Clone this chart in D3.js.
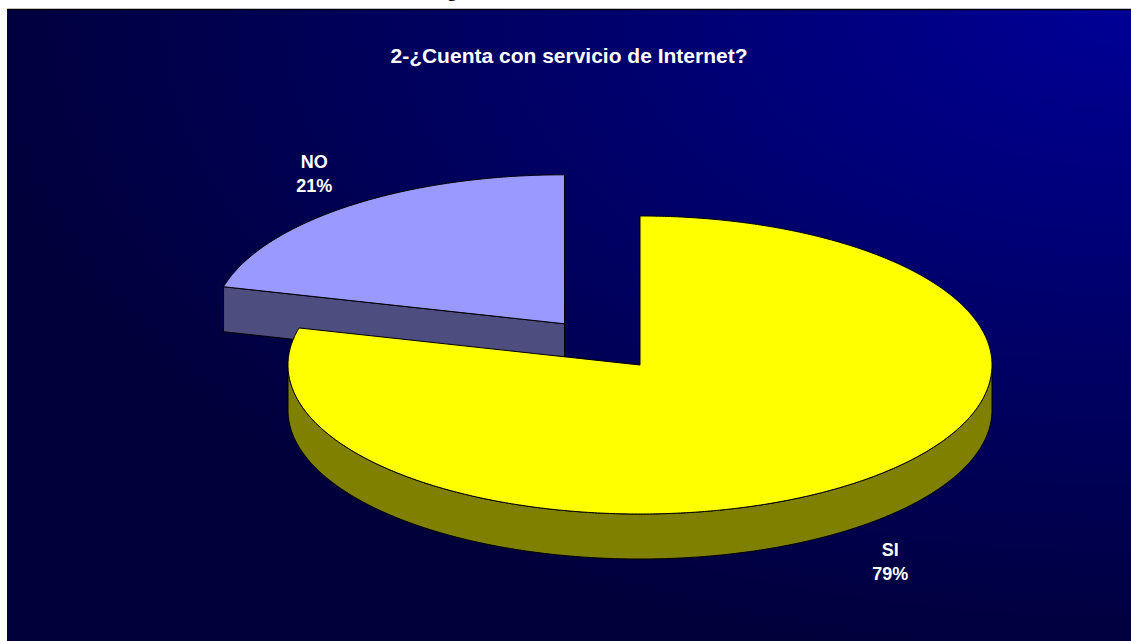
<!DOCTYPE html>
<html>
<head>
<meta charset="utf-8">
<script src="https://cdn.jsdelivr.net/npm/d3@7"></script>
<style>
  html, body { margin: 0; padding: 0; background: #ffffff; overflow: hidden; }
  svg { display: block; }
</style>
</head>
<body>
<svg id="chart" width="1131" height="641"></svg>
<script>
// Survey answers
const categories = ["SI", "NO"];
const values = [79, 21];
const percentLabels = ["79%", "21%"];
const chartTitle = "2-¿Cuenta con servicio de Internet?";
const explodeFactor = [0, 0.35];

// Slice colours: top face and darker extruded side
const topColors = ["#FFFF00", "#9999FF"];
const sideColors = ["#808000", "#4D4D80"];

const W = 1131, H = 641;
const svg = d3.select("#chart");

// Backdrop panel with a corner gradient
const defs = svg.append("defs");
const grad = defs.append("radialGradient")
  .attr("id", "bg")
  .attr("cx", 1).attr("cy", 0).attr("r", 1.05)
  .attr("fx", 1).attr("fy", 0);
grad.append("stop").attr("offset", 0).attr("stop-color", "#000096");
grad.append("stop").attr("offset", 0.45).attr("stop-color", "#00006C");
grad.append("stop").attr("offset", 1).attr("stop-color", "#00003A");

const panel = { x: 7, y: 9, w: W - 7, h: H - 9 };
svg.append("rect")
  .attr("x", panel.x).attr("y", panel.y)
  .attr("width", panel.w).attr("height", panel.h)
  .attr("fill", "url(#bg)");
svg.append("line")
  .attr("x1", panel.x).attr("x2", W)
  .attr("y1", panel.y + 0.5).attr("y2", panel.y + 0.5)
  .attr("stroke", "#000000").attr("stroke-width", 1.5);

// Trailing descender of the caption above the panel
svg.append("text")
  .attr("x", 452).attr("y", -3)
  .attr("text-anchor", "middle")
  .attr("font-family", "'Liberation Serif', serif")
  .attr("font-weight", "bold")
  .attr("font-size", 18)
  .attr("fill", "#000000")
  .text("g");

// Title
svg.append("text")
  .attr("x", (panel.x + W) / 2)
  .attr("y", 63)
  .attr("text-anchor", "middle")
  .attr("font-family", "'Liberation Sans', Arial, sans-serif")
  .attr("font-weight", "bold")
  .attr("font-size", 21)
  .attr("fill", "#ffffff")
  .text(chartTitle);

// 3D pie geometry
const center = { x: 640, y: 365 };
const rx = 352, ry = 149, depth = 45;

// Unit-ellipse coordinates to pixels
const xScale = d3.scaleLinear().domain([-1, 1]).range([center.x - rx, center.x + rx]);
const yScale = d3.scaleLinear().domain([-1, 1]).range([center.y - ry, center.y + ry]);

const pie = d3.pie().sort(null).value(d => d);
const arcs = pie(values).map((a, i) => {
  const mid = (a.startAngle + a.endAngle) / 2;
  const k = explodeFactor[i];
  return {
    ...a, i, mid,
    ox: k * Math.sin(mid),
    oy: -k * Math.cos(mid)
  };
});

const line = d3.line();

function pt(a, ang, r = 1, dz = 0) {
  return [xScale(a.ox + r * Math.sin(ang)), yScale(a.oy - r * Math.cos(ang)) + dz];
}
function arcPoints(a, a0, a1, dz = 0) {
  const n = Math.max(2, Math.ceil(Math.abs(a1 - a0) / (Math.PI / 360)));
  return d3.range(n + 1).map(j => pt(a, a0 + (a1 - a0) * j / n, 1, dz));
}

// Draw back slices first
const order = arcs.slice().sort((p, q) => (p.oy - Math.cos(p.mid)) - (q.oy - Math.cos(q.mid)));

const pieG = svg.append("g")
  .attr("stroke", "#000000")
  .attr("stroke-width", 1)
  .attr("stroke-linejoin", "round");

order.forEach(a => {
  const g = pieG.append("g");
  const apex = pt(a, 0, 0);
  const apexLow = pt(a, 0, 0, depth);

  // Radial cut faces that face the viewer
  [[a.startAngle, a.startAngle - Math.PI / 2], [a.endAngle, a.endAngle + Math.PI / 2]].forEach(([ang, normal]) => {
    if (Math.cos(normal) < -1e-6) {
      const outer = pt(a, ang), outerLow = pt(a, ang, 1, depth);
      g.append("path")
        .attr("d", line([apex, outer, outerLow, apexLow]) + "Z")
        .attr("fill", sideColors[a.i]);
    }
  });

  // Outer rim, front half only
  const s0 = Math.max(a.startAngle, Math.PI / 2);
  const s1 = Math.min(a.endAngle, 3 * Math.PI / 2);
  if (s1 > s0) {
    const topEdge = arcPoints(a, s0, s1);
    const lowEdge = arcPoints(a, s1, s0, depth);
    g.append("path")
      .attr("d", line(topEdge.concat(lowEdge)) + "Z")
      .attr("fill", sideColors[a.i]);
  }

  // Top face
  g.append("path")
    .attr("d", line([apex].concat(arcPoints(a, a.startAngle, a.endAngle))) + "Z")
    .attr("fill", topColors[a.i]);
});

// Category and percentage labels
const labelX = 1.16, labelY = 1.28;
const labels = svg.append("g")
  .attr("font-family", "'Liberation Sans', Arial, sans-serif")
  .attr("font-weight", "bold")
  .attr("font-size", 18)
  .attr("fill", "#ffffff")
  .attr("text-anchor", "middle");

arcs.forEach(a => {
  const lx = xScale(a.ox + labelX * Math.sin(a.mid));
  const front = -Math.cos(a.mid) > 0 ? depth : 0;
  const ly = yScale(a.oy - labelY * Math.cos(a.mid)) + front;
  const t = labels.append("text").attr("x", lx).attr("y", ly - 5);
  t.append("tspan").attr("x", lx).text(categories[a.i]);
  t.append("tspan").attr("x", lx).attr("dy", 24).text(percentLabels[a.i]);
});
</script>
</body>
</html>
